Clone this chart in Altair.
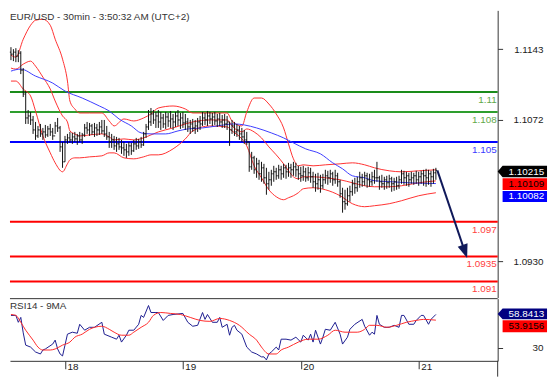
import altair as alt
import pandas as pd

FONT = "Liberation Sans"
W, H_MAIN, H_RSI = 494, 291, 63

TITLE = "EUR/USD - 30min - 3:50:32 AM (UTC+2)"
RSI_TITLE = "RSI14 - 9MA"

# ---------------- 30-min OHLC bars (values in pips above 1.1000) ----------------
BASE = 1.1000
high_pips = [145,143,144,142,141,124,101,82,80,76, 70,66,68,64,67,66,68,64,70,74,
             66,50,56,58,60,59,60,58,60,59, 68,70,69,68,69,68,70,72,72,66,
             60,58,56,55,54,52,50,48,50,49, 52,54,53,55,60,68,82,84,82,80,
             82,80,78,80,79,81,78,80,82,79, 80,78,74,72,73,72,74,76,80,79,
             81,80,79,80,78,79,77,78,76,70, 72,70,68,66,64,62,60,50,40,36,
             34,32,30,28,24,20,22,26,24,27, 26,28,27,29,28,30,29,26,25,26,
             24,25,24,20,18,19,17,18,22,21, 22,20,22,19,12,4,2,4,6,12,
             14,15,20,18,20,19,18,20,22,30, 16,17,15,16,17,15,14,15,16,22,
             21,20,19,20,19,21,20,21,22,23, 22,21,23,24]
low_pips = [132,131,130,130,118,95,68,68,67,58, 52,54,55,52,54,55,56,52,58,60,
            40,24,30,48,49,48,50,47,50,48, 55,58,56,57,55,56,57,58,55,52,
            44,44,42,40,42,38,36,34,36,37, 40,42,43,44,46,54,62,66,68,64,
            64,62,64,63,65,64,62,65,66,63, 64,62,60,58,60,58,60,62,66,67,
            66,68,66,67,65,66,64,64,62,46, 58,56,55,52,50,48,47,20,22,18,
            14,12,10,8,-3,2,6,10,12,13, 12,14,13,15,14,16,15,12,10,11,
            10,11,9,4,0,2,-1,3,8,7, 9,6,8,5,-6,-21,-18,-14,-10,-4,
            -2,0,4,5,6,4,5,6,8,10, 2,4,2,3,4,0,1,2,3,8,
            7,6,5,8,7,8,6,8,6,5, 7,5,8,12]
close_pips = [138,140,136,139,122,98,74,76,72,62, 56,62,58,60,57,63,60,56,66,64,
              45,30,52,54,52,55,53,56,52,57, 64,62,66,60,64,62,65,61,58,55,
              50,52,46,48,45,44,42,40,46,41, 48,46,50,47,58,65,70,78,72,76,
              70,74,68,75,71,73,70,76,72,74, 69,70,65,68,64,66,70,68,74,72,
              76,73,75,71,73,70,72,68,70,62, 66,60,62,58,55,52,50,25,34,22,
              28,18,24,14,8,12,18,20,16,22, 18,24,20,24,22,25,22,18,16,20,
              14,19,15,10,8,12,6,12,16,14, 18,12,16,10,-2,-10,-12,-4,0,8,
              4,10,14,10,16,12,10,15,14,14, 10,8,12,9,13,8,10,6,12,18,
              14,16,12,14,16,12,15,18,16,14, 18,15,19,21.5]
open_pips = [140] + close_pips[:-1]   # each 30-min bar opens at the prior close

n = min(len(high_pips), len(low_pips), len(close_pips))
bars = pd.DataFrame({
    "i": list(range(n)),
    "h": [round(BASE + v / 1e4, 5) for v in high_pips[:n]],
    "l": [round(BASE + v / 1e4, 5) for v in low_pips[:n]],
    "c": [round(BASE + v / 1e4, 5) for v in close_pips[:n]],
    "o": [round(BASE + v / 1e4, 5) for v in open_pips[:n]],
})

# ---------------- Bollinger bands (20,2) ----------------
band_i = [0,2,5,8,10,13,16,18,21,23, 24,26,28,32,37,40,42,46,50,54,
          57,60,66,71,74,81,88,90,94,96, 99,102,105,108,111,113,115,117,119,123,
          128,134,139,144,148,154,159,166,173]
band_upper = [1.1137,1.1135,1.1153,1.1167,1.1172,1.1173,1.1167,1.1153,1.1133,1.1111,
              1.1091,1.1083,1.1079,1.1079,1.1079,1.1071,1.1066,1.1073,1.1071,1.1074,
              1.1078,1.1084,1.1086,1.1083,1.1079,1.1079,1.1079,1.1071,1.1066,1.1080,
              1.1094,1.1094,1.1088,1.1078,1.1064,1.1048,1.1033,1.1026,1.1027,1.1026,
              1.1027,1.1028,1.1029,1.1027,1.1024,1.1021,1.1020,1.1021,1.1022]
band_mid = [1.1124,1.1123,1.1128,1.1131,1.1126,1.1115,1.1103,1.1091,1.1076,1.1070,
            1.1061,1.1058,1.1056,1.1057,1.1058,1.1055,1.1052,1.1053,1.1052,1.1054,
            1.1057,1.1060,1.1064,1.1068,1.1070,1.1072,1.1072,1.1066,1.1060,1.1063,
            1.1060,1.1054,1.1045,1.1037,1.1028,1.1021,1.1015,1.1013,1.1015,1.1015,
            1.1014,1.1012,1.1009,1.1006,1.1005,1.1005,1.1006,1.1009,1.10109]
band_lower = [1.1111,1.1111,1.1103,1.1096,1.1081,1.1056,1.1039,1.1029,1.1020,1.1028,
              1.1032,1.1034,1.1034,1.1035,1.1036,1.1039,1.1039,1.1034,1.1033,1.1035,
              1.1037,1.1037,1.1043,1.1053,1.1061,1.1066,1.1065,1.1061,1.1053,1.1046,
              1.1026,1.1014,1.1002,1.0995,1.0992,1.0994,1.0996,1.0999,1.1003,1.1004,
              1.1002,1.0996,1.0988,1.0985,1.0986,1.0988,1.0991,1.0996,1.0999]
bands = pd.DataFrame(list(zip(band_i, band_upper, band_mid, band_lower)),
                     columns=["i", "up", "mid", "lo"])

# ---------------- blue moving average ----------------
ma_i = [0,4,10,17,22,29,36,40,44,49,53,57,63,68,72,78,84,91,95,100,
        106,111,115,120,126,131,135,139,144,148,155,162,173]
ma_v = [1.1121,1.1123,1.1116,1.1109,1.1101,1.1094,1.1086,1.1081,1.1073,1.1066,
        1.1059,1.1058,1.1058,1.1061,1.1063,1.1064,1.1066,1.1068,1.1067,1.1064,
        1.1059,1.1054,1.1049,1.1043,1.1038,1.1029,1.1023,1.1016,1.1014,1.1011,
        1.1010,1.1009,1.10082]
ma_df = pd.DataFrame(list(zip(ma_i, ma_v)), columns=["i", "p"])

# ---------------- support / resistance levels ----------------
levels = [1.11, 1.108, 1.105, 1.097, 1.0935, 1.091]
level_labels = ["1.11", "1.108", "1.105", "1.097", "1.0935", "1.091"]
level_line_colors = ["#1a8c1a", "#2e9e2e", "#0000ff", "#ff0000", "#ff0000", "#ff0000"]
level_text_colors = ["#5fa84a", "#5fa84a", "#3a3aff", "#ff4040", "#ff4040", "#ff4040"]
levels_df = pd.DataFrame({"p": levels, "t": level_labels,
                          "lc": level_line_colors, "tc": level_text_colors})

# projected move arrow (from last close toward 1.0935)
arrow_from_i, arrow_from_p = 173.6, 1.10215
arrow_to_i, arrow_to_p = 184.8, 1.0940

# ---------------- RSI 14 and its 9-period MA ----------------
rsi_i = [0,2,3,4,5,6,8,10,12,13, 14,17,18,19,20,21,22,23,25,27,
         28,30,32,34,37,38,41,43,44,45, 47,48,50,52,53,54,56,57,59,60,
         62,64,66,70,72,74,76,78,79,80, 82,84,85,86,88,89,90,91,92,94,
         96,98,100,102,103,104,105,106,108,109, 110,112,114,116,118,119,121,122,123,124,
         126,127,128,130,132,134,135,137,138,140, 143,144,146,147,148,149,150,152,154,156,
         158,159,160,162,164,165,167,168,170,171, 173]
rsi_v = [58.0,58.0,52.1,56.3,43.0,32.5,30.8,26.6,24.9,28.3, 29.2,33.4,36.8,29.2,24.9,23.2,32.5,41.9,43.6,42.7,
         50.4,45.3,47.8,47.8,52.1,41.9,39.3,37.6,41.0,35.1, 41.0,45.3,45.3,50.4,58.0,56.3,66.5,60.5,60.5,60.5,
         53.7,58.0,58.8,59.7,52.1,48.7,49.5,60.5,54.6,58.8, 52.1,52.1,56.3,47.8,50.4,41.0,47.8,49.5,45.3,41.9,
         30.8,26.6,24.9,22.4,22.4,19.8,24.9,26.6,30.8,28.3, 37.6,37.6,36.8,39.3,35.1,41.0,36.8,41.9,35.1,45.3,
         33.4,39.3,46.1,45.3,52.1,41.9,33.4,39.3,46.1,50.4, 54.6,48.7,41.0,43.6,41.9,58.0,50.4,47.8,47.8,49.5,
         47.8,58.0,58.0,50.4,50.4,53.7,58.0,58.0,50.4,54.6, 58.84]
rsi_ma_i = [0,2,4,6,9,11,13,16,18,21, 24,26,29,32,34,37,40,42,45,48,
            50,53,56,58,61,65,69,73,77,81, 85,89,93,97,100,102,105,108,110,113,
            117,121,125,129,132,136,141,144,146,149, 153,157,161,165,168,173]
rsi_ma_v = [58.8,58.0,52.1,45.3,36.8,30.8,28.3,28.3,29.2,32.5, 35.1,39.3,41.9,46.1,47.8,48.7,46.1,43.6,41.0,41.0,
            43.6,47.8,52.1,58.0,60.5,59.7,58.8,56.3,53.7,52.9, 55.4,53.7,49.5,41.9,36.8,30.8,24.9,24.9,28.3,30.8,
            35.1,37.6,37.6,41.0,45.3,43.6,43.6,46.1,49.5,49.5, 47.8,49.5,52.1,53.7,54.6,53.92]
rsi_df = pd.DataFrame(list(zip(rsi_i, rsi_v)), columns=["i", "v"])
rsi_ma_df = pd.DataFrame(list(zip(rsi_ma_i, rsi_ma_v)), columns=["i", "v"])

# x axis: day boundaries (bar index) and labels
day_idx = [22, 70, 118, 166]
day_lab = ["18", "19", "20", "21"]

# ---------------- scales & axes ----------------
xs = alt.Scale(domain=[-0.4, 198.15], nice=False, zero=False)
ys_main = alt.Scale(domain=[1.089378, 1.118190], nice=False, zero=False)
ys_rsi = alt.Scale(domain=[19.0, 72.4], nice=False, zero=False)

AX = dict(grid=False, title=None, labelFont=FONT, labelFontSize=10, labelColor="#1a1a1a",
          domainColor="#333333", tickColor="#333333", domainWidth=1, tickWidth=1)
y_axis_main = alt.Axis(orient="right", values=[1.1143, 1.1072, 1.0930], format=".4f",
                       tickSize=5, labelPadding=41, labelAlign="right", **AX)
y_axis_rsi = alt.Axis(orient="right", values=[30], format="d",
                      tickSize=5, labelPadding=41, labelAlign="right", **AX)
label_expr = " : ".join(f"datum.value == {d} ? '{l}'" for d, l in zip(day_idx, day_lab)) + " : ''"
x_axis_rsi = alt.Axis(orient="bottom", values=day_idx, labelExpr=label_expr, tickSize=8,
                      labelAlign="left", labelBaseline="top", labelOffset=2,
                      labelPadding=-7, labelFlush=False, **AX)


def XM(f):
    return alt.X(f"{f}:Q", scale=xs, axis=None)


def YM(f):
    return alt.Y(f"{f}:Q", scale=ys_main, axis=y_axis_main)


def XR(f):
    return alt.X(f"{f}:Q", scale=xs, axis=x_axis_rsi)


def YR(f):
    return alt.Y(f"{f}:Q", scale=ys_rsi, axis=y_axis_rsi)


def tag(value, label, bg, fg, top, bottom, arrow, yfun):
    u = 25.0
    t, b = top / u, bottom / u
    m = (t + b) / 2
    if arrow:
        path = f"M-1,{m:.3f}L-0.8,{t:.3f}L1,{t:.3f}L1,{b:.3f}L-0.8,{b:.3f}Z"
    else:
        path = f"M-0.8,{t:.3f}L1,{t:.3f}L1,{b:.3f}L-0.8,{b:.3f}Z"
    df = pd.DataFrame({"p": [value], "t": [label]})
    box = alt.Chart(df).mark_point(shape=path, filled=True, size=2500, color=bg,
                                   opacity=1, strokeWidth=0).encode(
        x=alt.value(W + 25), y=yfun("p"))
    txt = alt.Chart(df).mark_text(color=fg, fontSize=10, font=FONT, align="center",
                                  baseline="middle", dy=m * u).encode(
        x=alt.value(W + 29), y=yfun("p"), text="t:N")
    return [box, txt]


dummy = pd.DataFrame({"a": [0]})

# ---------------- main price panel ----------------
lvl_rules = alt.Chart(levels_df).mark_rule(strokeWidth=2).encode(
    y=YM("p"), color=alt.Color("lc:N", scale=None))
lvl_text = alt.Chart(levels_df).mark_text(align="right", baseline="top", dy=3,
                                          fontSize=10, font=FONT).encode(
    y=YM("p"), x=alt.value(W - 1), text="t:N", color=alt.Color("tc:N", scale=None))

band_layers = [
    alt.Chart(bands).mark_line(color="#ff3030", strokeWidth=1, interpolate="monotone").encode(
        x=XM("i"), y=YM(f)) for f in ["up", "mid", "lo"]
]
blue_ma = alt.Chart(ma_df).mark_line(color="#3c3cff", strokeWidth=1, interpolate="monotone").encode(
    x=XM("i"), y=YM("p"))

BAR = "#111111"
bar_hl = alt.Chart(bars).mark_rule(color=BAR, strokeWidth=1).encode(
    x=XM("i"), y=YM("l"), y2=alt.Y2("h"))
bar_open = alt.Chart(bars).transform_calculate(xo="datum.i - 0.45").mark_rule(
    color=BAR, strokeWidth=1).encode(x=XM("xo"), x2=alt.X2("i"), y=YM("o"))
bar_close = alt.Chart(bars).transform_calculate(xc="datum.i + 0.45").mark_rule(
    color=BAR, strokeWidth=1).encode(x=XM("i"), x2=alt.X2("xc"), y=YM("c"))

NAVY = "#10195a"
arrow_df = pd.DataFrame({"i": [arrow_from_i], "p": [arrow_from_p],
                         "i2": [arrow_to_i], "p2": [arrow_to_p]})
arrow_line = alt.Chart(arrow_df).mark_rule(color=NAVY, strokeWidth=2).encode(
    x=XM("i"), y=YM("p"), x2=alt.X2("i2"), y2=alt.Y2("p2"))
head_df = pd.DataFrame({"i": [arrow_to_i], "p": [arrow_to_p]})
arrow_head = alt.Chart(head_df).mark_point(shape="M-0.75,-1L0.75,-1L0,1Z", filled=True,
                                           size=196, angle=341, color=NAVY, opacity=1,
                                           strokeWidth=0).encode(x=XM("i"), y=YM("p"))

title_txt = alt.Chart(dummy).mark_text(text=TITLE, align="left", baseline="alphabetic",
                                       fontSize=10, font=FONT, color="#333333").encode(
    x=alt.value(0), y=alt.value(10))

main_tags = (tag(1.10215, "1.10215", "#000000", "#ffffff", -4.5, 7.0, True, YM)
             + tag(1.10109, "1.10109", "#ff0000", "#000000", -2.7, 9.3, False, YM)
             + tag(1.10082, "1.10082", "#0000ff", "#ffffff", 7.6, 18.6, False, YM))

main = alt.layer(lvl_rules, lvl_text, *band_layers, blue_ma, bar_hl, bar_open, bar_close,
                 arrow_line, arrow_head, title_txt, *main_tags).properties(
    width=W, height=H_MAIN)

# ---------------- RSI panel ----------------
rsi_line = alt.Chart(rsi_df).mark_line(color="#1c1c8f", strokeWidth=1).encode(
    x=XR("i"), y=YR("v"))
rsi_ma_line = alt.Chart(rsi_ma_df).mark_line(color="#ff2a2a", strokeWidth=1,
                                             interpolate="monotone").encode(
    x=XR("i"), y=YR("v"))
rsi_label = alt.Chart(dummy).mark_text(text=RSI_TITLE, align="left", baseline="middle",
                                       fontSize=10, font=FONT, color="#333333").encode(
    x=alt.value(0), y=alt.value(7))
top_border = alt.Chart(dummy).mark_rule(color="#333333", strokeWidth=1).encode(
    x=alt.value(0), x2=alt.value(W), y=alt.value(0))
axis_tail = alt.Chart(dummy).mark_rule(color="#333333", strokeWidth=1).encode(
    x=alt.value(W), y=alt.value(H_RSI), y2=alt.value(H_RSI + 16))
rsi_tags = (tag(58.8413, "58.8413", "#000080", "#ffffff", -6.0, 5.0, True, YR)
            + tag(53.9156, "53.9156", "#ff0000", "#000000", 0.2, 12.2, False, YR))

rsi = alt.layer(rsi_line, rsi_ma_line, rsi_label, top_border, axis_tail, *rsi_tags).properties(
    width=W, height=H_RSI)

chart = alt.vconcat(main, rsi, spacing=0).properties(
    padding={"left": 0, "top": 0, "right": 2, "bottom": 0}
).configure_view(stroke=None)

chart.save("out.html", embed_options={"renderer": "svg", "actions": False})
